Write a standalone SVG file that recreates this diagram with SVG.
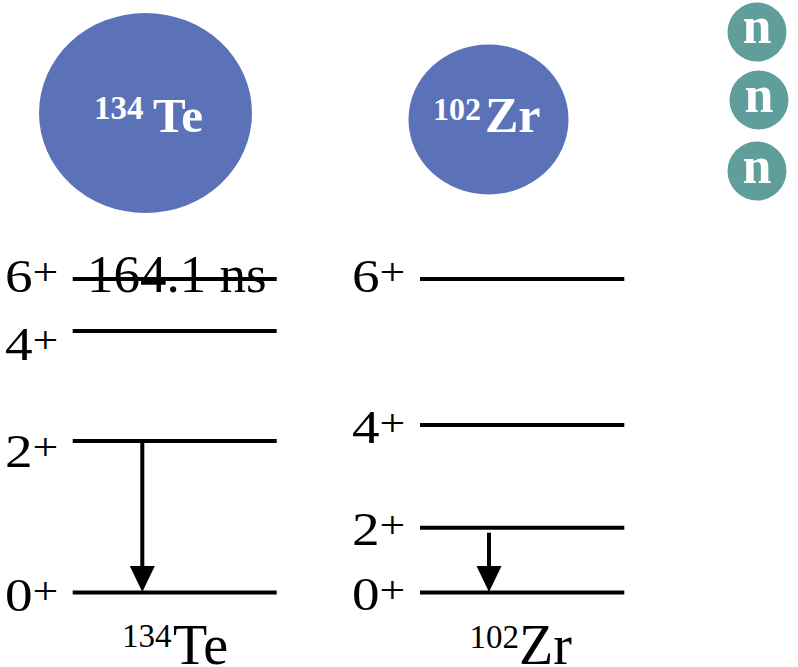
<svg xmlns="http://www.w3.org/2000/svg" width="798" height="667" viewBox="0 0 798 667">
<style>
.nuc{fill:#5B72B9}
.neu{fill:#5F9E9A}
.wt{fill:#ffffff;font-family:"Liberation Serif","Times New Roman",serif;font-weight:bold}
.lv{stroke:#000;stroke-width:4;fill:none}
.ser{fill:#000;font-family:"Liberation Serif","Times New Roman",serif}
.lab{font-size:46px}
.sup{font-size:38px}
.conn{stroke:#000;stroke-width:4;fill:none}
</style>
<defs>
<marker id="ah" markerUnits="userSpaceOnUse" viewBox="0 -13 26 26" refX="0" refY="0" markerWidth="26" markerHeight="26" orient="auto">
<path d="M0,-12.5 L26,0 L0,12.5 Z" fill="#000"/>
</marker>
</defs>
<rect width="798" height="667" fill="#fff"/>

<g id="te-nucleus">
<ellipse class="nuc" cx="145.5" cy="113" rx="106.5" ry="100"/>
<text class="wt" x="94" y="119" style="font-size:33px">134</text>
<text class="wt" x="153" y="132" style="font-size:49px">Te</text>
</g>

<g id="zr-nucleus">
<ellipse class="nuc" cx="488.5" cy="119.5" rx="80" ry="75"/>
<text class="wt" x="433" y="120" style="font-size:32px">102</text>
<text class="wt" x="485" y="132" style="font-size:50px">Zr</text>
</g>

<g id="neutron-1">
<circle class="neu" cx="757" cy="32" r="29.5"/>
<text class="wt" x="757" y="43" style="font-size:52px" text-anchor="middle">n</text>
</g>
<g id="neutron-2">
<circle class="neu" cx="759" cy="100" r="29.5"/>
<text class="wt" x="759" y="112" style="font-size:52px" text-anchor="middle">n</text>
</g>
<g id="neutron-3">
<circle class="neu" cx="757" cy="171" r="29.5"/>
<text class="wt" x="757" y="183" style="font-size:52px" text-anchor="middle">n</text>
</g>

<g id="te-6">
<text class="ser lab" transform="translate(5,291.5) scale(1.2,1)">6<tspan class="sup" dy="-7">+</tspan></text>
<text class="ser" x="87" y="291.5" style="font-size:53px">164.1 ns</text>
<line class="lv" x1="72.7" y1="279" x2="276.7" y2="279"/>
</g>
<g id="te-4">
<text class="ser lab" transform="translate(5,360) scale(1.2,1)">4<tspan class="sup" dy="-7">+</tspan></text>
<line class="lv" x1="72.7" y1="331" x2="276.7" y2="331"/>
</g>
<g id="te-2">
<text class="ser lab" transform="translate(5,466.5) scale(1.2,1)">2<tspan class="sup" dy="-7">+</tspan></text>
<line class="lv" x1="72.7" y1="441" x2="276.7" y2="441"/>
</g>
<g id="te-0">
<text class="ser lab" transform="translate(5,611) scale(1.2,1)">0<tspan class="sup" dy="-7">+</tspan></text>
<line class="lv" x1="72.7" y1="592.5" x2="276.7" y2="592.5"/>
</g>
<g id="te-label">
<text class="ser" x="122" y="647" style="font-size:33px">134</text>
<text class="ser" x="173" y="664" style="font-size:56px">Te</text>
</g>

<g id="zr-6">
<text class="ser lab" transform="translate(352,291.5) scale(1.2,1)">6<tspan class="sup" dy="-7">+</tspan></text>
<line class="lv" x1="420" y1="279" x2="624.3" y2="279"/>
</g>
<g id="zr-4">
<text class="ser lab" transform="translate(352,443) scale(1.2,1)">4<tspan class="sup" dy="-7">+</tspan></text>
<line class="lv" x1="420" y1="425" x2="624.3" y2="425"/>
</g>
<g id="zr-2">
<text class="ser lab" transform="translate(352,545) scale(1.2,1)">2<tspan class="sup" dy="-7">+</tspan></text>
<line class="lv" x1="420" y1="527.7" x2="624.3" y2="527.7"/>
</g>
<g id="zr-0">
<text class="ser lab" transform="translate(352,610) scale(1.2,1)">0<tspan class="sup" dy="-7">+</tspan></text>
<line class="lv" x1="420" y1="592.5" x2="624.3" y2="592.5"/>
</g>
<g id="zr-label">
<text class="ser" x="469.5" y="648" style="font-size:33px">102</text>
<text class="ser" x="519" y="664" style="font-size:56px">Zr</text>
</g>

<g id="connectors">
<line class="conn" x1="142.3" y1="441" x2="142.3" y2="566" marker-end="url(#ah)"/>
<line class="conn" x1="489" y1="532.7" x2="489" y2="566" marker-end="url(#ah)"/>
</g>
</svg>
